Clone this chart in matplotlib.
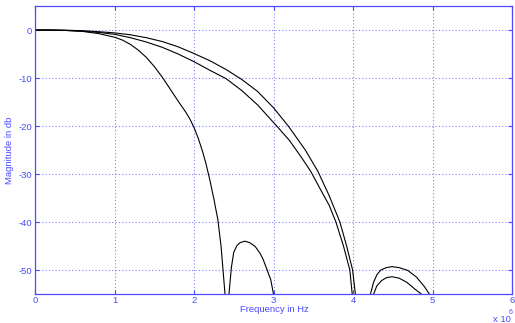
import matplotlib
matplotlib.use("Agg")
import matplotlib.pyplot as plt

# ---- data (frequency in units of 1e6 Hz, magnitude in dB)
freq_a = [0.0, 0.2, 0.4, 0.6, 0.8, 1.0, 1.1, 1.2, 1.3, 1.4, 1.5, 1.6, 1.7, 1.8, 1.9,
          1.95, 2.0, 2.05, 2.1, 2.15, 2.2, 2.25, 2.3, 2.34, 2.37, 2.39, 2.42]
mag_a = [0.0, -0.02, -0.1, -0.3, -0.75, -1.5, -2.1, -3.0, -4.2, -5.7, -7.6, -9.8,
         -12.3, -14.8, -17.2, -18.6, -20.3, -22.4, -24.9, -27.8, -31.3, -35.2, -39.5,
         -45.0, -51.0, -55.0, -70.0]
freq_a_side = [2.42, 2.44, 2.47, 2.5, 2.54, 2.58, 2.64, 2.7, 2.77, 2.83, 2.87, 2.92,
               2.965, 3.0, 3.02]
mag_a_side = [-70.0, -55.0, -49.5, -46.3, -44.9, -44.3, -44.0, -44.3, -45.1, -46.5,
              -47.8, -50.0, -52.0, -55.0, -70.0]

freq_b = [0.0, 0.2, 0.4, 0.6, 0.8, 1.0, 1.2, 1.4, 1.6, 1.8, 2.0, 2.2, 2.4, 2.6, 2.8,
          3.04, 3.2, 3.35, 3.47, 3.6, 3.7, 3.785, 3.88, 3.96, 3.99, 4.01]
mag_b = [0.0, -0.02, -0.1, -0.25, -0.5, -0.9, -1.6, -2.5, -3.6, -5.0, -6.6, -8.4,
         -10.1, -12.6, -15.6, -20.0, -23.0, -26.5, -29.5, -33.5, -36.5, -40.0, -45.0,
         -50.0, -55.0, -70.0]
freq_b_side = [4.24, 4.26, 4.3, 4.36, 4.42, 4.49, 4.58, 4.68, 4.78, 4.86, 4.88]
mag_b_side = [-70.0, -55.0, -53.3, -52.2, -51.6, -51.4, -51.7, -52.6, -54.0, -55.0, -70.0]

freq_c = [0.0, 0.2, 0.4, 0.6, 0.8, 1.0, 1.2, 1.4, 1.6, 1.8, 2.0, 2.2, 2.4, 2.6, 2.8,
          3.0, 3.186, 3.4, 3.56, 3.7, 3.835, 3.92, 3.995, 4.03, 4.05]
mag_c = [0.0, -0.01, -0.05, -0.15, -0.35, -0.6, -1.0, -1.6, -2.4, -3.5, -4.9, -6.4,
         -8.2, -10.3, -12.8, -16.2, -20.0, -25.0, -29.5, -34.5, -40.0, -45.0, -50.0,
         -55.0, -70.0]
freq_c_side = [4.2, 4.22, 4.26, 4.3, 4.35, 4.42, 4.49, 4.58, 4.69, 4.8, 4.9, 4.96, 4.98]
mag_c_side = [-70.0, -55.0, -52.5, -51.0, -50.0, -49.5, -49.3, -49.5, -50.1, -51.5,
              -53.5, -55.0, -70.0]

x_ticks = [0, 1, 2, 3, 4, 5, 6]
y_ticks = [-50, -40, -30, -20, -10, 0]

AX_COLOR = "#4a4aff"
GRID_COLOR = "#8080ff"

plt.rcParams["font.family"] = ["Liberation Sans", "DejaVu Sans"]
plt.rcParams["axes.unicode_minus"] = False

fig = plt.figure(figsize=(5.15, 3.23), dpi=100)
ax = fig.add_axes([35 / 515, 1 - 294 / 323, (512 - 35) / 515, (294 - 6) / 323])

for f, m in [(freq_a, mag_a), (freq_a_side, mag_a_side), (freq_b, mag_b),
             (freq_b_side, mag_b_side), (freq_c, mag_c), (freq_c_side, mag_c_side)]:
    ax.plot(f, m, color="black", linewidth=0.8, solid_joinstyle="round")

ax.set_xlim(0, 6)
ax.set_ylim(-55, 5)
ax.set_xticks(x_ticks)
ax.set_xticklabels([str(t) for t in x_ticks])
ax.set_yticks(y_ticks)
ax.set_yticklabels([str(t) for t in y_ticks])

ax.grid(True, color=GRID_COLOR, linestyle=(0, (1, 2)), linewidth=0.8)
for s in ax.spines.values():
    s.set_color(AX_COLOR)
    s.set_linewidth(0.9)
ax.tick_params(direction="in", length=3, width=0.8, colors=AX_COLOR,
               labelsize=6.8, top=True, right=True)
ax.tick_params(axis="x", pad=1.5)
ax.tick_params(axis="y", pad=2)

fig.text(274 / 515, 1 - 309.5 / 323, "Frequency in Hz", color=AX_COLOR, fontsize=6.8,
         ha="center", va="center")
fig.text(10 / 515, 1 - 150 / 323, "Magnitude in db", color=AX_COLOR, fontsize=6.8,
         ha="center", va="center", rotation=90)

fig.text(493 / 515, 1 - 319 / 323, "x 10", color=AX_COLOR, fontsize=6.8,
         ha="left", va="center")
fig.text(509 / 515, 1 - 312.5 / 323, "6", color=AX_COLOR, fontsize=5,
         ha="left", va="center")

fig.savefig("out.png", dpi=100)
